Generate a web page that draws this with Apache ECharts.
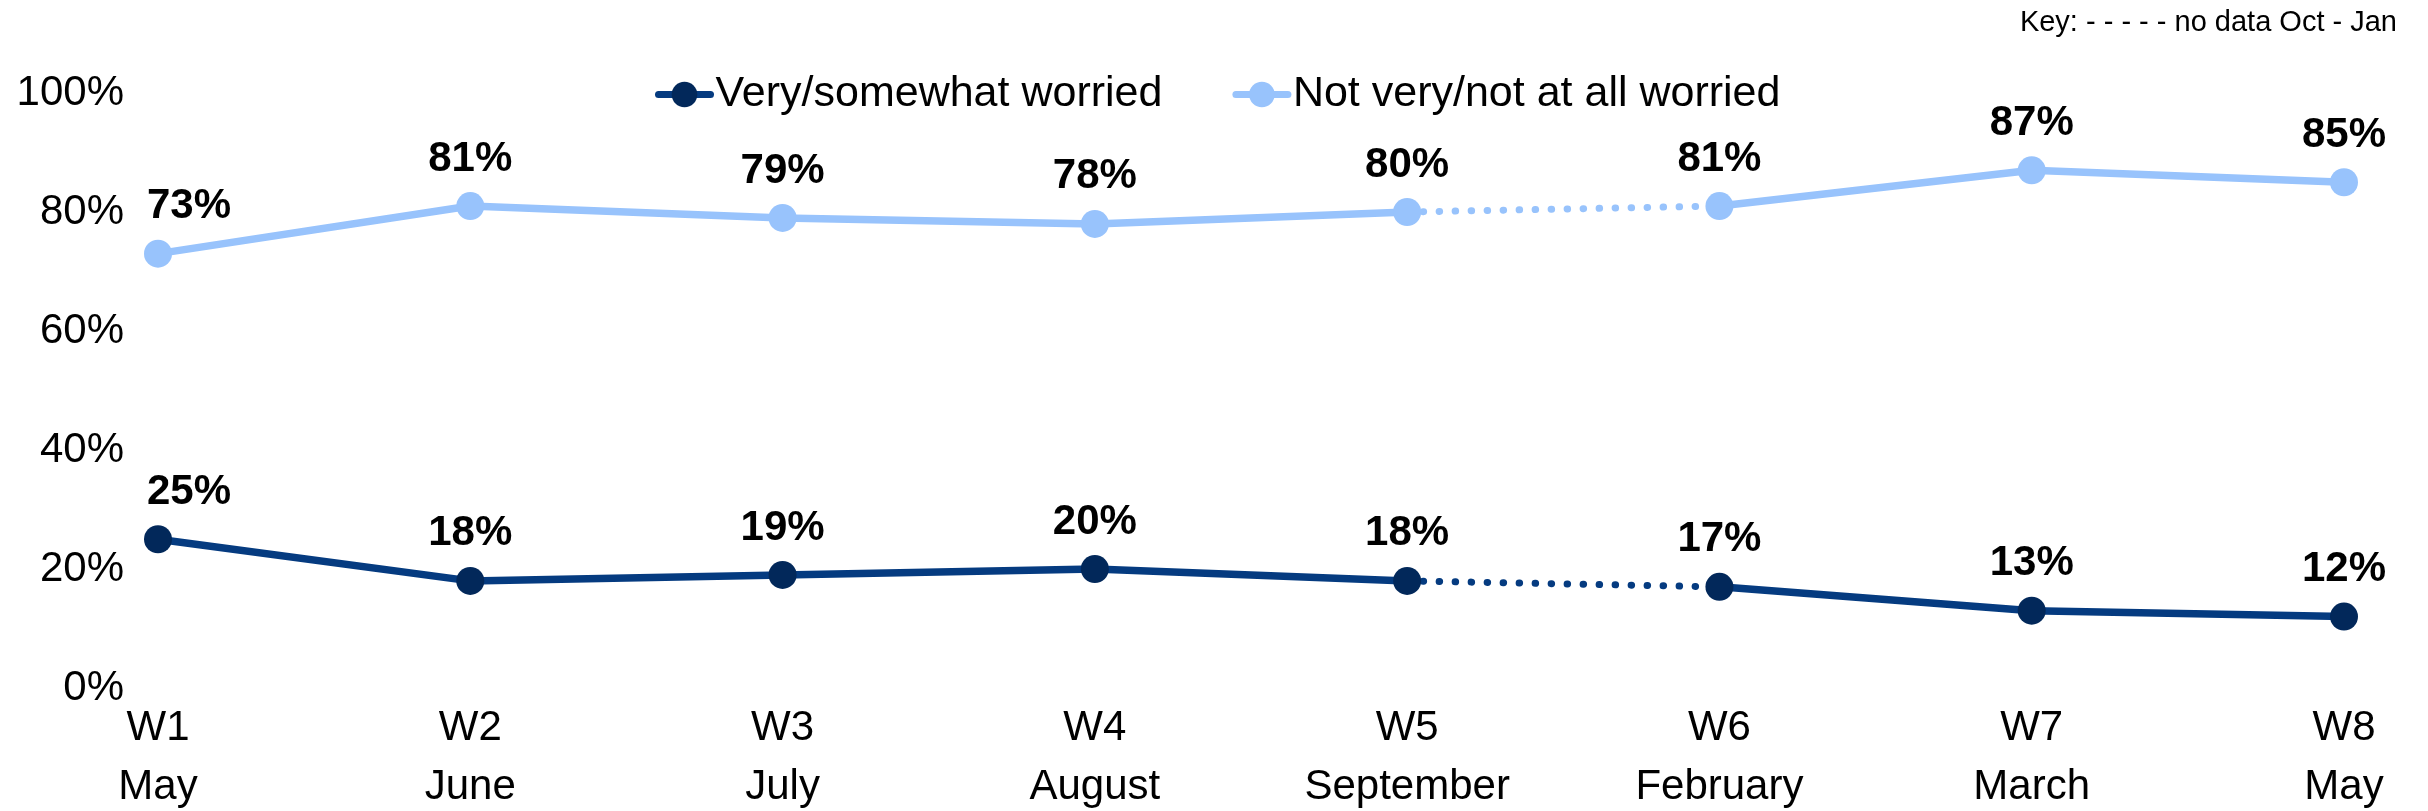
<!DOCTYPE html>
<html>
<head>
<meta charset="utf-8">
<script src="https://cdn.jsdelivr.net/npm/echarts@6/dist/echarts.min.js"></script>
<style>
  html, body { margin: 0; padding: 0; background: #fff; }
  #chart { width: 2428px; height: 811px; }
</style>
</head>
<body>
<div id="chart"></div>
<script>
// waves and fieldwork months
const categories = ['W1\nMay', 'W2\nJune', 'W3\nJuly', 'W4\nAugust', 'W5\nSeptember', 'W6\nFebruary', 'W7\nMarch', 'W8\nMay']
const worried = [25, 18, 19, 20, 18, 17, 13, 12]
const notWorried = [73, 81, 79, 78, 80, 81, 87, 85]
const yTicks = [0, 20, 40, 60, 80, 100]
// no data Oct - Jan between W5 and W6
const gapStart = 4

const font = 'Arial, "Liberation Sans", sans-serif'

const buildSeries = (name, values, lineColor, markerColor) => {
  const before = values.map((v, i) => (i <= gapStart ? v : '-'))
  const after = values.map((v, i) => (i > gapStart ? v : '-'))
  const gap = values.map((v, i) => (i === gapStart || i === gapStart + 1 ? v : '-'))
  const solid = (data) => ({
    name: name,
    type: 'line',
    data: data.map((v, i) => (i === 0 && v !== '-' ? { value: v, label: { offset: [31, 0] } } : v)),
    symbol: 'circle',
    symbolSize: 28,
    z: 3,
    lineStyle: { color: lineColor, width: 7.5 },
    itemStyle: { color: markerColor },
    label: {
      show: true,
      position: 'top',
      distance: 12,
      formatter: '{c}%',
      fontFamily: font,
      fontWeight: 'bold',
      fontSize: 42,
      color: '#000'
    },
    emphasis: { disabled: true },
    animation: false
  })
  return [
    solid(before),
    solid(after),
    {
      name: name,
      type: 'line',
      data: gap,
      showSymbol: false,
      symbol: 'none',
      z: 2,
      lineStyle: { color: lineColor, width: 7, type: [0.5, 15.5], cap: 'round' },
      emphasis: { disabled: true },
      animation: false
    }
  ]
}

const chart = echarts.init(document.getElementById('chart'))
chart.setOption({
  backgroundColor: '#fff',
  textStyle: { fontFamily: font },
  grid: { left: 158, right: 84, top: 93, bottom: 123, containLabel: false, outerBoundsMode: 'none' },
  legend: {
    data: ['Very/somewhat worried', 'Not very/not at all worried'],
    left: 650,
    top: 68,
    itemWidth: 52,
    itemHeight: 32,
    itemGap: 70,
    lineStyle: { width: 7, cap: 'round' },
    textStyle: { fontFamily: font, fontSize: 43, color: '#000' },
    selectedMode: false
  },
  graphic: [{
    type: 'text',
    right: 31,
    top: 8,
    style: { text: 'Key: - - - - - no data Oct - Jan', font: '29px ' + font, fill: '#000' }
  }],
  xAxis: {
    type: 'category',
    data: categories,
    boundaryGap: false,
    axisLine: { show: false },
    axisTick: { show: false },
    axisLabel: { fontFamily: font, fontSize: 42, color: '#000', lineHeight: 59, margin: 11, interval: 0 }
  },
  yAxis: {
    type: 'value',
    min: yTicks[0],
    max: yTicks[yTicks.length - 1],
    interval: yTicks[1] - yTicks[0],
    axisLine: { show: false },
    axisTick: { show: false },
    splitLine: { show: false },
    axisLabel: { formatter: '{value}%', fontFamily: font, fontSize: 42, color: '#000', margin: 34 }
  },
  series: [
    ...buildSeries('Very/somewhat worried', worried, '#053B80', '#02285A'),
    ...buildSeries('Not very/not at all worried', notWorried, '#98C3FC', '#98C3FC')
  ]
})
</script>
</body>
</html>
